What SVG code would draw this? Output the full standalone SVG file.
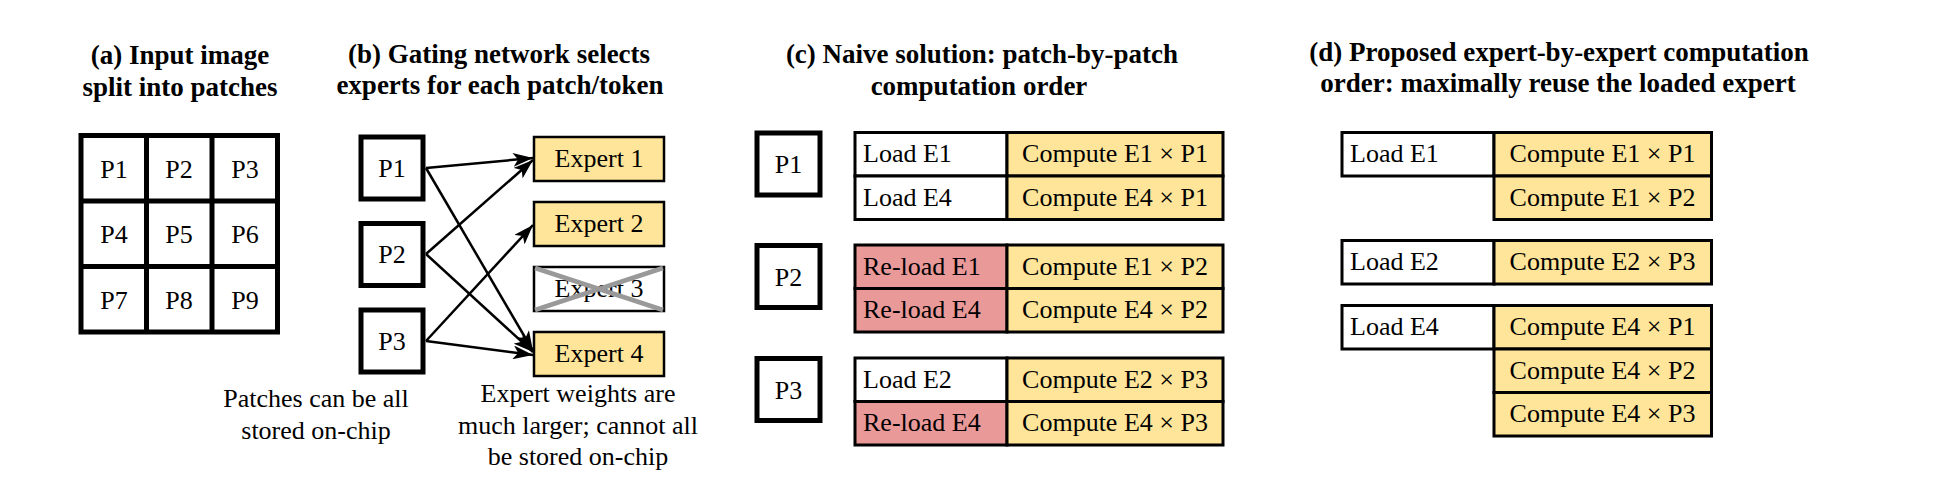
<svg xmlns="http://www.w3.org/2000/svg" width="1948" height="484" viewBox="0 0 1948 484" font-family="'Liberation Serif', 'Times New Roman', 'DejaVu Serif', serif">
<style>
text{font-family:'Liberation Serif','Times New Roman','DejaVu Serif',serif;fill:#000}
.t{font-size:27px;font-weight:bold;text-anchor:middle}
.b{font-size:26px}
.c{text-anchor:middle}
.patch{fill:#fff;stroke:#000;stroke-width:5}
.exp{fill:#FFE599;stroke:#000;stroke-width:2.5}
.cell{fill:#fff;stroke:#000;stroke-width:3}
.y{fill:#FFE599;stroke:#000;stroke-width:3}
.r{fill:#EA9999;stroke:#000;stroke-width:3}
.arrow{stroke:#000;stroke-width:2.5;fill:none;marker-end:url(#ah)}
</style>
<defs>
<marker id="ah" markerUnits="userSpaceOnUse" markerWidth="20" markerHeight="14" refX="20" refY="7" orient="auto">
<path d="M0,0 L20,7 L0,14 L5,7 z" fill="#000"/>
</marker>
</defs>
<rect width="1948" height="484" fill="#fff"/>

<g id="titles">
<text class="t" x="180" y="64">(a) Input image</text>
<text class="t" x="180" y="96">split into patches</text>
<text class="t" x="499" y="63">(b) Gating network selects</text>
<text class="t" x="500" y="94">experts for each patch/token</text>
<text class="t" x="982" y="63">(c) Naive solution: patch-by-patch</text>
<text class="t" x="979" y="95">computation order</text>
<text class="t" x="1559" y="61">(d) Proposed expert-by-expert computation</text>
<text class="t" x="1558" y="92">order: maximally reuse the loaded expert</text>
</g>

<g id="grid">
<rect x="81" y="135.5" width="196.5" height="196.5" fill="#fff" stroke="#000" stroke-width="5"/>
<path d="M146.5,135.5V332M212,135.5V332M81,201H277.5M81,266.5H277.5" stroke="#000" stroke-width="5" fill="none"/>
<g class="b c">
<text x="114" y="178">P1</text><text x="179" y="178">P2</text><text x="245" y="178">P3</text>
<text x="114" y="243">P4</text><text x="179" y="243">P5</text><text x="245" y="243">P6</text>
<text x="114" y="309">P7</text><text x="179" y="309">P8</text><text x="245" y="309">P9</text>
</g>
</g>

<g id="b-P1"><rect class="patch" x="361" y="137" width="62" height="62"/><text class="b c" x="392" y="177">P1</text></g>
<g id="b-P2"><rect class="patch" x="361" y="223.5" width="62" height="62"/><text class="b c" x="392" y="263">P2</text></g>
<g id="b-P3"><rect class="patch" x="361" y="310" width="62" height="62"/><text class="b c" x="392" y="350">P3</text></g>

<g id="expert1"><rect class="exp" x="534" y="137" width="130" height="44"/><text class="b c" x="599" y="167">Expert 1</text></g>
<g id="expert2"><rect class="exp" x="534" y="202" width="130" height="44"/><text class="b c" x="599" y="232">Expert 2</text></g>
<g id="expert3"><rect x="534" y="267" width="130" height="44" fill="#fff" stroke="#000" stroke-width="2.5"/><text class="b c" x="599" y="297">Expert 3</text>
<path d="M535,268L663,310M535,310L663,268" stroke="#999" stroke-width="4.5" fill="none"/></g>
<g id="expert4"><rect class="exp" x="534" y="332" width="130" height="44"/><text class="b c" x="599" y="362">Expert 4</text></g>

<g id="connectors">
<line class="arrow" x1="426" y1="168" x2="533" y2="158"/>
<line class="arrow" x1="426" y1="168" x2="533" y2="351"/>
<line class="arrow" x1="426" y1="254" x2="533" y2="160"/>
<line class="arrow" x1="426" y1="254" x2="533" y2="352"/>
<line class="arrow" x1="426" y1="341" x2="533" y2="225"/>
<line class="arrow" x1="426" y1="341" x2="533" y2="355"/>
</g>

<g id="notes">
<text class="b c" x="316" y="407">Patches can be all</text>
<text class="b c" x="316" y="439">stored on-chip</text>
<text class="b c" x="578" y="402">Expert weights are</text>
<text class="b c" x="578" y="434">much larger; cannot all</text>
<text class="b c" x="578" y="465">be stored on-chip</text>
</g>

<g id="c-P1"><rect class="patch" x="757" y="133" width="63" height="62"/><text class="b c" x="788.5" y="173">P1</text></g>
<g id="c-P2"><rect class="patch" x="757" y="245.5" width="63" height="62"/><text class="b c" x="788.5" y="286">P2</text></g>
<g id="c-P3"><rect class="patch" x="757" y="358.5" width="63" height="62"/><text class="b c" x="788.5" y="399">P3</text></g>

<g id="c-table1">
<rect class="cell" x="855" y="132.5" width="152" height="43.5"/><text class="b" x="863" y="162">Load E1</text>
<rect class="y" x="1007" y="132.5" width="216" height="43.5"/><text class="b c" x="1115" y="162">Compute E1 × P1</text>
<rect class="cell" x="855" y="176" width="152" height="43.5"/><text class="b" x="863" y="205.5">Load E4</text>
<rect class="y" x="1007" y="176" width="216" height="43.5"/><text class="b c" x="1115" y="205.5">Compute E4 × P1</text>
</g>
<g id="c-table2">
<rect class="r" x="855" y="245" width="152" height="43.5"/><text class="b" x="863" y="274.5">Re-load E1</text>
<rect class="y" x="1007" y="245" width="216" height="43.5"/><text class="b c" x="1115" y="274.5">Compute E1 × P2</text>
<rect class="r" x="855" y="288.5" width="152" height="43.5"/><text class="b" x="863" y="318">Re-load E4</text>
<rect class="y" x="1007" y="288.5" width="216" height="43.5"/><text class="b c" x="1115" y="318">Compute E4 × P2</text>
</g>
<g id="c-table3">
<rect class="cell" x="855" y="358" width="152" height="43.5"/><text class="b" x="863" y="387.5">Load E2</text>
<rect class="y" x="1007" y="358" width="216" height="43.5"/><text class="b c" x="1115" y="387.5">Compute E2 × P3</text>
<rect class="r" x="855" y="401.5" width="152" height="43.5"/><text class="b" x="863" y="431">Re-load E4</text>
<rect class="y" x="1007" y="401.5" width="216" height="43.5"/><text class="b c" x="1115" y="431">Compute E4 × P3</text>
</g>

<g id="d-E1">
<rect class="cell" x="1342" y="132.5" width="152" height="43.5"/><text class="b" x="1350" y="162">Load E1</text>
<rect class="y" x="1494" y="132.5" width="217.5" height="43.5"/><text class="b c" x="1602.5" y="162">Compute E1 × P1</text>
<rect class="y" x="1494" y="176" width="217.5" height="43.5"/><text class="b c" x="1602.5" y="205.5">Compute E1 × P2</text>
</g>
<g id="d-E2">
<rect class="cell" x="1342" y="240.5" width="152" height="43.5"/><text class="b" x="1350" y="270">Load E2</text>
<rect class="y" x="1494" y="240.5" width="217.5" height="43.5"/><text class="b c" x="1602.5" y="270">Compute E2 × P3</text>
</g>
<g id="d-E4">
<rect class="cell" x="1342" y="305.5" width="152" height="43.5"/><text class="b" x="1350" y="335">Load E4</text>
<rect class="y" x="1494" y="305.5" width="217.5" height="43.5"/><text class="b c" x="1602.5" y="335">Compute E4 × P1</text>
<rect class="y" x="1494" y="349" width="217.5" height="43.5"/><text class="b c" x="1602.5" y="378.5">Compute E4 × P2</text>
<rect class="y" x="1494" y="392.5" width="217.5" height="43.5"/><text class="b c" x="1602.5" y="422">Compute E4 × P3</text>
</g>
</svg>
